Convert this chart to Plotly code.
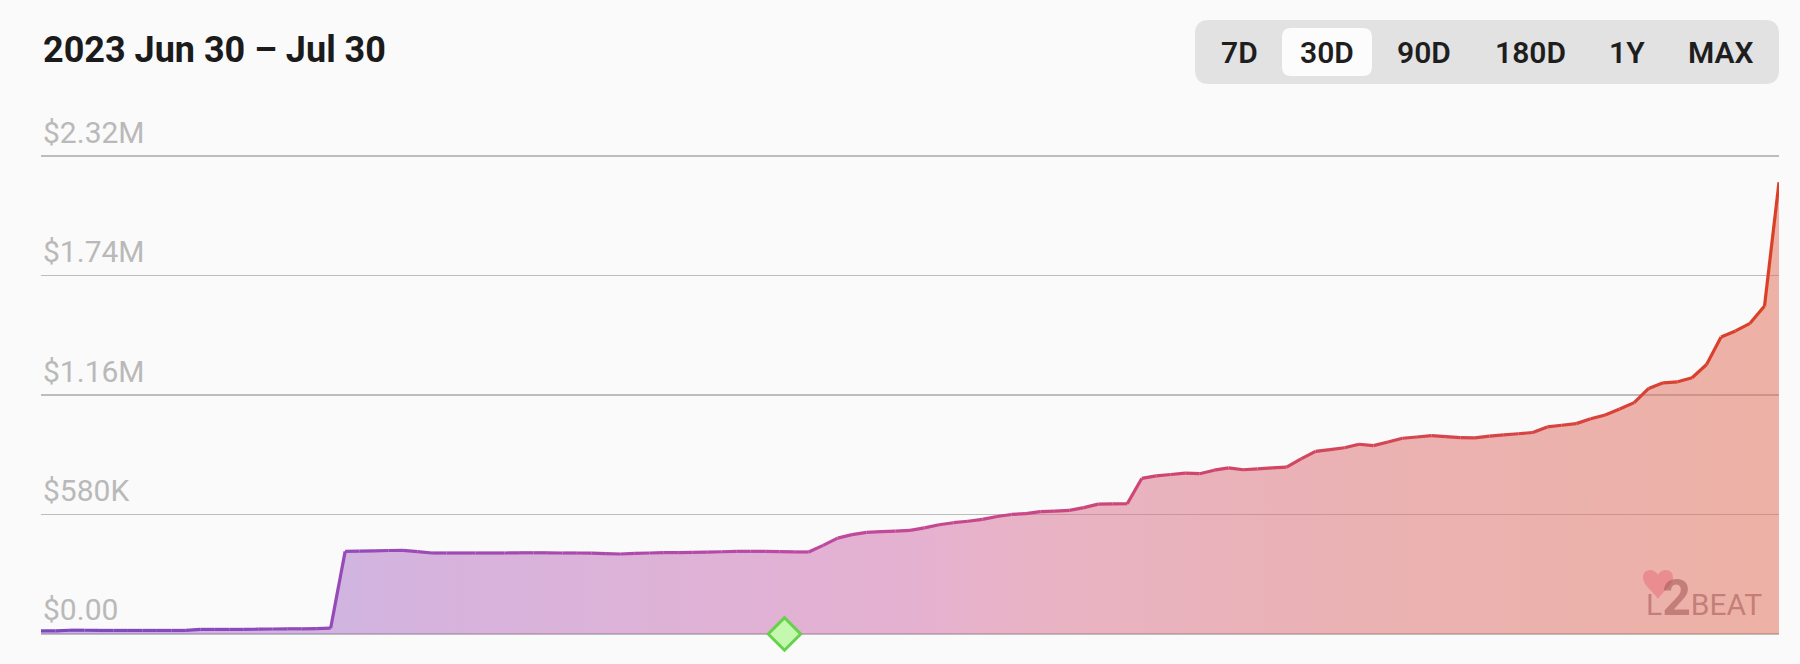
import plotly.graph_objects as go
import pandas as pd

# ---------------- data ----------------
title_text = "2023 Jun 30 \u2013 Jul 30"
range_buttons = ["7D", "30D", "90D", "180D", "1Y", "MAX"]
selected_button = "30D"
tick_values = [0, 0.58, 1.16, 1.74, 2.32]          # USD millions
tick_labels = ["$0.00", "$580K", "$1.16M", "$1.74M", "$2.32M"]
timestamps = pd.date_range("2023-06-30 00:00", "2023-07-30 00:00", freq="6h")
tvl_musd = [
    0.015, 0.015, 0.018, 0.018, 0.017, 0.017, 0.017, 0.017, 0.017, 0.017,
    0.017, 0.022, 0.022, 0.022, 0.022, 0.023, 0.024, 0.025, 0.025, 0.026,
    0.028, 0.401, 0.402, 0.403, 0.405, 0.406, 0.400, 0.393, 0.393, 0.393,
    0.393, 0.393, 0.393, 0.394, 0.394, 0.394, 0.393, 0.393, 0.392, 0.390,
    0.388, 0.391, 0.393, 0.395, 0.395, 0.396, 0.397, 0.399, 0.401, 0.401,
    0.401, 0.400, 0.398, 0.398, 0.430, 0.465, 0.482, 0.493, 0.497, 0.499,
    0.503, 0.515, 0.530, 0.540, 0.547, 0.556, 0.570, 0.580, 0.584, 0.594,
    0.596, 0.600, 0.613, 0.630, 0.631, 0.632, 0.755, 0.767, 0.774, 0.781,
    0.778, 0.795, 0.806, 0.797, 0.801, 0.806, 0.810, 0.850, 0.886, 0.895,
    0.904, 0.921, 0.914, 0.932, 0.950, 0.956, 0.963, 0.958, 0.953, 0.952,
    0.960, 0.966, 0.972, 0.978, 1.005, 1.013, 1.021, 1.045, 1.063, 1.092,
    1.123, 1.192, 1.219, 1.224, 1.244, 1.308, 1.442, 1.471, 1.508, 1.592,
    2.193,
]
milestone_time = "2023-07-12 20:00"

# ---------------- geometry / style ----------------
W, H = 1800, 664
ML, MR, MT, MB = 41, 21, 154, 28
PW, PH = W - ML - MR, H - MT - MB
Y_PAD = 0.01   # small pad so the edge grid lines are drawn


def px(x):
    return (x - ML) / PW


def py(y):
    return (H - MB - y) / PH


line_stops = [
    (0.00, (122, 72, 192)),
    (0.18, (150, 74, 184)),
    (0.45, (190, 74, 160)),
    (0.60, (203, 70, 125)),
    (0.75, (212, 70, 88)),
    (1.00, (218, 64, 38)),
]
fill_scale = [
    [0.00, "rgba(162,106,206,0.5)"],
    [0.18, "rgba(170,110,198,0.5)"],
    [0.25, "rgba(182,108,190,0.5)"],
    [0.50, "rgba(208,104,168,0.5)"],
    [0.56, "rgba(214,108,146,0.5)"],
    [0.74, "rgba(218,106,110,0.5)"],
    [1.00, "rgba(224,104,80,0.5)"],
]


def interp(stops, f):
    for (f0, c0), (f1, c1) in zip(stops[:-1], stops[1:]):
        if f0 <= f <= f1:
            t = (f - f0) / (f1 - f0) if f1 > f0 else 0
            c = [round(a + (b - a) * t) for a, b in zip(c0, c1)]
            return "rgb(%d,%d,%d)" % tuple(c)
    return "rgb(%d,%d,%d)" % stops[-1][1]


fig = go.Figure()

# filled area with horizontal gradient
fig.add_trace(go.Scatter(
    x=timestamps, y=tvl_musd, mode="lines", line=dict(width=0),
    fill="tozeroy",
    fillgradient=dict(type="horizontal", colorscale=fill_scale),
    hoverinfo="skip", showlegend=False,
))

# gradient line drawn as consecutive segments
n = len(tvl_musd)
for i in range(n - 1):
    f = (i + 0.5) / (n - 1)
    fig.add_trace(go.Scatter(
        x=timestamps[i:i + 2], y=tvl_musd[i:i + 2], mode="lines",
        line=dict(width=3.2, color=interp(line_stops, f)),
        hoverinfo="skip", showlegend=False,
    ))

# milestone diamond
fig.add_trace(go.Scatter(
    x=[pd.Timestamp(milestone_time)], y=[0], mode="markers",
    marker=dict(symbol="diamond", size=25, color="#c3f8ae",
                line=dict(color="#66d14a", width=3)),
    cliponaxis=False, hoverinfo="skip", showlegend=False,
))

annotations = []
# y tick labels above grid lines
for v, t in zip(tick_values, tick_labels):
    annotations.append(dict(
        xref="paper", yref="y", x=0, y=v, xanchor="left", yanchor="middle",
        yshift=24, text=t, showarrow=False,
        font=dict(family="Roboto", size=30, color="#b9b9b9"),
    ))

# title
annotations.append(dict(
    xref="paper", yref="paper", x=0, y=py(50), xanchor="left", yanchor="middle",
    text=title_text, showarrow=False,
    font=dict(family="Roboto", size=36, color="#1b1b1b", weight=700),
))

shapes = []


def rrect(x0, y0, x1, y1, r):
    pts = [
        ("M", [(x0 + r, y0)]),
        ("L", [(x1 - r, y0)]),
        ("Q", [(x1, y0), (x1, y0 + r)]),
        ("L", [(x1, y1 - r)]),
        ("Q", [(x1, y1), (x1 - r, y1)]),
        ("L", [(x0 + r, y1)]),
        ("Q", [(x0, y1), (x0, y1 - r)]),
        ("L", [(x0, y0 + r)]),
        ("Q", [(x0, y0), (x0 + r, y0)]),
    ]
    s = ""
    for cmd, ps in pts:
        s += cmd + " " + " ".join("%.6f,%.6f" % (px(a), py(b)) for a, b in ps) + " "
    return s + "Z"


def heart(cx, yb, w, h):
    pts = [
        ("M", [(cx, yb)]),
        ("C", [(cx - 0.15 * w, yb - 0.25 * h), (cx - 0.5 * w, yb - 0.45 * h),
               (cx - 0.5 * w, yb - 0.72 * h)]),
        ("C", [(cx - 0.5 * w, yb - 0.97 * h), (cx - 0.2 * w, yb - 1.07 * h),
               (cx, yb - 0.82 * h)]),
        ("C", [(cx + 0.2 * w, yb - 1.07 * h), (cx + 0.5 * w, yb - 0.97 * h),
               (cx + 0.5 * w, yb - 0.72 * h)]),
        ("C", [(cx + 0.5 * w, yb - 0.45 * h), (cx + 0.15 * w, yb - 0.25 * h),
               (cx, yb)]),
    ]
    s = ""
    for cmd, ps in pts:
        s += cmd + " " + " ".join("%.6f,%.6f" % (px(a), py(b)) for a, b in ps) + " "
    return s + "Z"


# range selector panel
shapes.append(dict(type="path", xref="paper", yref="paper",
                   path=rrect(1195, 20, 1779, 84, 14),
                   fillcolor="#e2e2e2", line=dict(width=0), layer="below"))
shapes.append(dict(type="path", xref="paper", yref="paper",
                   path=rrect(1282, 28, 1372, 76, 9),
                   fillcolor="#fcfcfc", line=dict(width=0), layer="below"))

button_centers = [1239, 1327, 1424, 1530, 1627, 1721]
for b, cx in zip(range_buttons, button_centers):
    annotations.append(dict(
        xref="paper", yref="paper", x=px(cx), y=py(52.5), xanchor="center",
        yanchor="middle", text=b, showarrow=False,
        font=dict(family="Roboto", size=30, color="#1e1e1e", weight=600),
    ))

# L2BEAT watermark: heart shape + single text
shapes.append(dict(type="path", xref="paper", yref="paper",
                   path=heart(1658, 599, 30, 30),
                   fillcolor="rgba(232,112,124,0.55)", line=dict(width=0),
                   layer="above"))
annotations.append(dict(
    xref="paper", yref="paper", x=px(1764), y=py(598), xanchor="right",
    yanchor="middle",
    text="L<span style='font-size:50px;font-weight:bold'>2</span>BEAT",
    showarrow=False,
    font=dict(family="Roboto", size=30, color="rgba(168,92,92,0.6)"),
))

fig.update_layout(
    width=W, height=H,
    margin=dict(l=ML, r=MR, t=MT, b=MB, pad=0),
    paper_bgcolor="#fafafa", plot_bgcolor="#fafafa",
    showlegend=False,
    xaxis=dict(range=[timestamps[0], timestamps[-1]], showgrid=False,
               showticklabels=False, zeroline=False, showline=False,
               ticks="", fixedrange=True),
    yaxis=dict(range=[-Y_PAD, tick_values[-1] + Y_PAD], tickvals=tick_values,
               showticklabels=False, showgrid=True, gridcolor="#bdbdbd",
               gridwidth=1.5, zeroline=False, showline=False, ticks="",
               fixedrange=True),
    annotations=annotations,
    shapes=shapes,
    font=dict(family="Roboto"),
)

fig.write_html(
    "out.html",
    config={"displayModeBar": False, "staticPlot": True},
    post_script="document.body.style.margin='0';document.body.style.background='#fafafa';",
)
